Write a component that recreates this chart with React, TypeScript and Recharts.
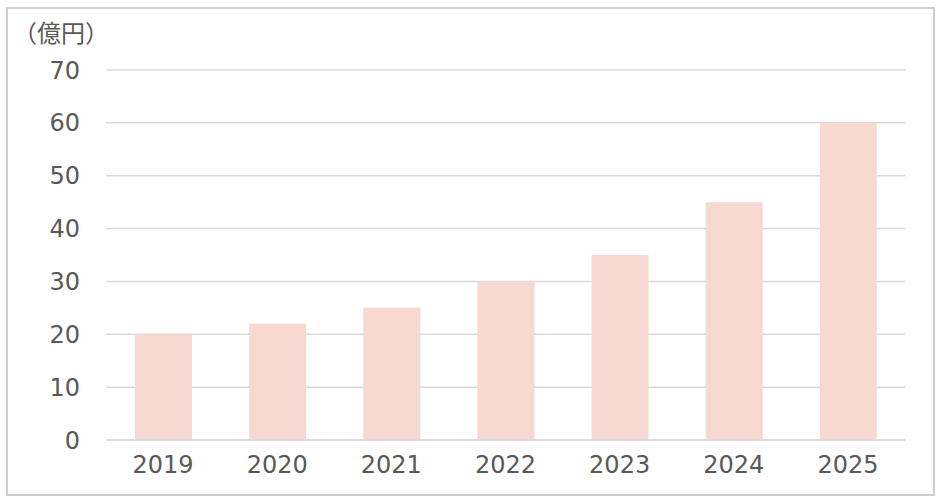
import React from "react";
import { BarChart, Bar, XAxis, YAxis, CartesianGrid } from "recharts";

const years = ["2019", "2020", "2021", "2022", "2023", "2024", "2025"];
const revenue = [20, 22, 25, 30, 35, 45, 60];
const yTicks = [0, 10, 20, 30, 40, 50, 60, 70];
const unitLabel = "（億円）";

const data = years.map((y, i) => ({ year: y, value: revenue[i] }));

const NUM_FONT = "'DejaVu Sans', 'Noto Sans', sans-serif";
const CJK_FONT = "'Noto Sans CJK JP', sans-serif";

export default function App() {
  return (
    <div
      style={{
        position: "absolute",
        left: 6,
        top: 7,
        width: 925,
        height: 485,
        border: "2px solid #cfcfcf",
        background: "#fff",
      }}
    >
      <div
        style={{
          position: "absolute",
          left: 5,
          top: 8,
          fontSize: 24,
          color: "#595959",
          fontFamily: CJK_FONT,
          lineHeight: "30px",
          whiteSpace: "nowrap",
        }}
      >
        {unitLabel}
      </div>
      <BarChart
        width={925}
        height={485}
        data={data}
        margin={{ top: 61, right: 28, bottom: 0, left: 0 }}
      >
        <CartesianGrid vertical={false} stroke="#d9d9d9" strokeWidth={1.5} />
        <XAxis
          dataKey="year"
          height={54}
          tickLine={false}
          axisLine={{ stroke: "#d9d9d9", strokeWidth: 1.5 }}
          tick={{ fill: "#595959", fontSize: 24, fontFamily: NUM_FONT }}
          tickMargin={10}
        />
        <YAxis
          width={98}
          domain={[0, 70]}
          ticks={yTicks}
          axisLine={false}
          tickLine={false}
          tickMargin={20}
          tick={{ fill: "#595959", fontSize: 24, fontFamily: NUM_FONT }}
        />
        <Bar dataKey="value" fill="#f8d9d1" barSize={57} isAnimationActive={false} />
      </BarChart>
    </div>
  );
}
